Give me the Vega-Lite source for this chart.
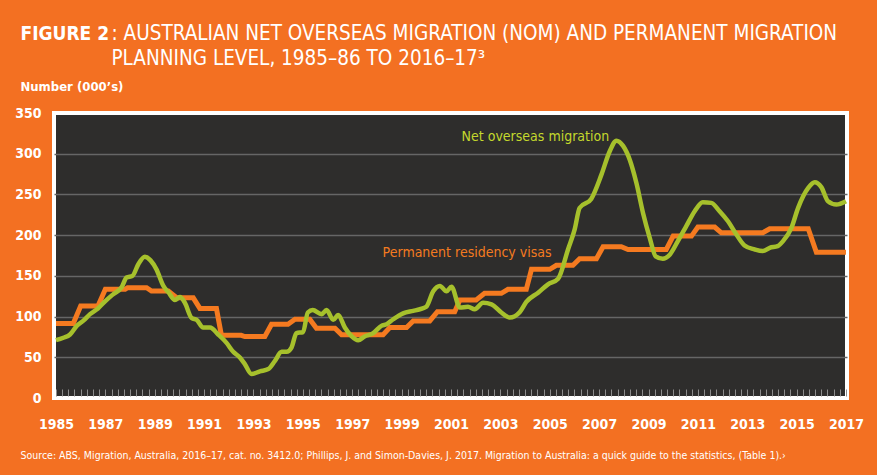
{
  "$schema": "https://vega.github.io/schema/vega-lite/v6.json",
  "autosize": "none",
  "width": 793,
  "height": 285,
  "padding": {"left": 54, "top": 113, "right": 30, "bottom": 77},
  "background": "#F37022",
  "config": {
    "font": "DejaVu Sans Condensed, sans-serif",
    "view": {"fill": "#2E2D2C", "stroke": "#FFFFFF", "strokeWidth": 4}
  },
  "datasets": {
    "nom": [
      {"year": 1985.0, "value": 71}, {"year": 1985.3, "value": 74}, {"year": 1985.57, "value": 78},
      {"year": 1985.84, "value": 88.6}, {"year": 1986.1, "value": 94.7}, {"year": 1986.38, "value": 103},
      {"year": 1986.7, "value": 110}, {"year": 1987.0, "value": 119}, {"year": 1987.3, "value": 127},
      {"year": 1987.66, "value": 136}, {"year": 1987.86, "value": 148}, {"year": 1988.1, "value": 150},
      {"year": 1988.33, "value": 164}, {"year": 1988.6, "value": 173.5}, {"year": 1988.83, "value": 169},
      {"year": 1989.07, "value": 158}, {"year": 1989.35, "value": 137.6}, {"year": 1989.55, "value": 130},
      {"year": 1989.82, "value": 120.4}, {"year": 1990.02, "value": 124}, {"year": 1990.22, "value": 117},
      {"year": 1990.5, "value": 98}, {"year": 1990.7, "value": 96}, {"year": 1990.96, "value": 86.5},
      {"year": 1991.24, "value": 86.5}, {"year": 1991.57, "value": 78}, {"year": 1991.9, "value": 68},
      {"year": 1992.18, "value": 56.7}, {"year": 1992.45, "value": 49.8}, {"year": 1992.65, "value": 41.6},
      {"year": 1992.92, "value": 29.4}, {"year": 1993.26, "value": 32.7}, {"year": 1993.6, "value": 35.5},
      {"year": 1993.87, "value": 45.7}, {"year": 1994.14, "value": 56.7}, {"year": 1994.34, "value": 56.7},
      {"year": 1994.54, "value": 62}, {"year": 1994.74, "value": 79.6}, {"year": 1995.01, "value": 81},
      {"year": 1995.2, "value": 105}, {"year": 1995.4, "value": 108}, {"year": 1995.76, "value": 103},
      {"year": 1995.96, "value": 108}, {"year": 1996.23, "value": 96}, {"year": 1996.43, "value": 102},
      {"year": 1996.7, "value": 86.5}, {"year": 1996.97, "value": 76}, {"year": 1997.24, "value": 71},
      {"year": 1997.5, "value": 75.5}, {"year": 1997.85, "value": 79.6}, {"year": 1998.18, "value": 88.6},
      {"year": 1998.39, "value": 90.6}, {"year": 1998.66, "value": 96.7}, {"year": 1999.06, "value": 104},
      {"year": 1999.47, "value": 107}, {"year": 1999.74, "value": 109}, {"year": 2000.0, "value": 112},
      {"year": 2000.28, "value": 131}, {"year": 2000.55, "value": 137.6}, {"year": 2000.82, "value": 131},
      {"year": 2001.02, "value": 136.7}, {"year": 2001.36, "value": 111}, {"year": 2001.69, "value": 112},
      {"year": 2001.96, "value": 109}, {"year": 2002.3, "value": 117}, {"year": 2002.64, "value": 115},
      {"year": 2003.04, "value": 105}, {"year": 2003.38, "value": 98.8}, {"year": 2003.79, "value": 105.7},
      {"year": 2004.05, "value": 118}, {"year": 2004.53, "value": 129.4}, {"year": 2004.93, "value": 139.6},
      {"year": 2005.34, "value": 146.5}, {"year": 2005.74, "value": 182.4}, {"year": 2006.01, "value": 207},
      {"year": 2006.21, "value": 233.5}, {"year": 2006.68, "value": 244.5}, {"year": 2007.09, "value": 274},
      {"year": 2007.43, "value": 303}, {"year": 2007.7, "value": 316}, {"year": 2007.97, "value": 309.6},
      {"year": 2008.24, "value": 292.6}, {"year": 2008.51, "value": 264}, {"year": 2008.78, "value": 227},
      {"year": 2009.05, "value": 196.7}, {"year": 2009.29, "value": 174}, {"year": 2009.58, "value": 171},
      {"year": 2009.86, "value": 176}, {"year": 2010.19, "value": 192.7}, {"year": 2010.53, "value": 211},
      {"year": 2010.87, "value": 229.4}, {"year": 2011.2, "value": 240.4}, {"year": 2011.54, "value": 239.6},
      {"year": 2011.88, "value": 229.4}, {"year": 2012.22, "value": 217}, {"year": 2012.56, "value": 200.8},
      {"year": 2012.89, "value": 187.3}, {"year": 2013.3, "value": 182.4}, {"year": 2013.63, "value": 180.4},
      {"year": 2013.91, "value": 184.5}, {"year": 2014.23, "value": 186.5}, {"year": 2014.45, "value": 192.7},
      {"year": 2014.79, "value": 209}, {"year": 2015.06, "value": 233.5}, {"year": 2015.47, "value": 258},
      {"year": 2015.73, "value": 265}, {"year": 2016.0, "value": 259}, {"year": 2016.27, "value": 241.6},
      {"year": 2016.61, "value": 237.5}, {"year": 2017.0, "value": 241.6}
    ],
    "prl": [
      {"year": 1985.0, "value": 91.4}, {"year": 1985.7, "value": 91.4}, {"year": 1986.0, "value": 113},
      {"year": 1986.7, "value": 113}, {"year": 1987.0, "value": 133.5}, {"year": 1987.8, "value": 133.5},
      {"year": 1987.9, "value": 135.5}, {"year": 1988.67, "value": 135.5}, {"year": 1988.87, "value": 131.4},
      {"year": 1989.55, "value": 131.4}, {"year": 1989.9, "value": 123}, {"year": 1990.56, "value": 123},
      {"year": 1990.83, "value": 110}, {"year": 1991.5, "value": 110}, {"year": 1991.7, "value": 77},
      {"year": 1992.5, "value": 77}, {"year": 1992.65, "value": 75.5}, {"year": 1993.46, "value": 75.5},
      {"year": 1993.73, "value": 90.6}, {"year": 1994.4, "value": 90.6}, {"year": 1994.68, "value": 96.7},
      {"year": 1995.28, "value": 96.7}, {"year": 1995.55, "value": 85.7}, {"year": 1996.3, "value": 85.7},
      {"year": 1996.57, "value": 77.6}, {"year": 1998.25, "value": 77.6}, {"year": 1998.52, "value": 86.5},
      {"year": 1999.2, "value": 86.5}, {"year": 1999.47, "value": 94.7}, {"year": 2000.14, "value": 94.7},
      {"year": 2000.45, "value": 106}, {"year": 2001.15, "value": 106}, {"year": 2001.36, "value": 120.4},
      {"year": 2002.02, "value": 120.4}, {"year": 2002.36, "value": 128.6}, {"year": 2003.04, "value": 128.6},
      {"year": 2003.31, "value": 133.5}, {"year": 2004.05, "value": 133.5}, {"year": 2004.26, "value": 158},
      {"year": 2005.0, "value": 158}, {"year": 2005.27, "value": 163}, {"year": 2005.94, "value": 163},
      {"year": 2006.21, "value": 171}, {"year": 2006.89, "value": 171}, {"year": 2007.16, "value": 185.7},
      {"year": 2007.9, "value": 185.7}, {"year": 2008.17, "value": 182.4}, {"year": 2009.72, "value": 182.4},
      {"year": 2010.0, "value": 198.8}, {"year": 2010.74, "value": 198.8}, {"year": 2011.0, "value": 210},
      {"year": 2011.68, "value": 210}, {"year": 2011.95, "value": 202.9}, {"year": 2013.63, "value": 202.9},
      {"year": 2013.91, "value": 207.8}, {"year": 2015.47, "value": 207.8}, {"year": 2015.8, "value": 179},
      {"year": 2017.0, "value": 179}
    ],
    "labels": [
      {"year": 2001.43, "value": 321, "series": "Net overseas migration"},
      {"year": 1998.23, "value": 177.5, "series": "Permanent residency visas"}
    ]
  },
  "resolve": {"axis": {"x": "independent", "y": "independent"}},
  "layer": [
    {
      "data": {"name": "prl"},
      "mark": {"type": "line", "color": "#F57A20", "strokeWidth": 5, "interpolate": "linear"},
      "encoding": {
        "x": {
          "field": "year", "type": "quantitative",
          "scale": {"domain": [1984.92, 2017.04], "nice": false, "zero": false},
          "axis": {
            "orient": "bottom", "offset": -2, "labels": false, "domain": false, "grid": false,
            "ticks": true, "tickSize": -7, "tickColor": "#8C8C8C", "tickWidth": 1, "title": null,
            "values": [1985,1985.25,1985.5,1985.75,1986,1986.25,1986.5,1986.75,1987,1987.25,1987.5,1987.75,1988,1988.25,1988.5,1988.75,1989,1989.25,1989.5,1989.75,1990,1990.25,1990.5,1990.75,1991,1991.25,1991.5,1991.75,1992,1992.25,1992.5,1992.75,1993,1993.25,1993.5,1993.75,1994,1994.25,1994.5,1994.75,1995,1995.25,1995.5,1995.75,1996,1996.25,1996.5,1996.75,1997,1997.25,1997.5,1997.75,1998,1998.25,1998.5,1998.75,1999,1999.25,1999.5,1999.75,2000,2000.25,2000.5,2000.75,2001,2001.25,2001.5,2001.75,2002,2002.25,2002.5,2002.75,2003,2003.25,2003.5,2003.75,2004,2004.25,2004.5,2004.75,2005,2005.25,2005.5,2005.75,2006,2006.25,2006.5,2006.75,2007,2007.25,2007.5,2007.75,2008,2008.25,2008.5,2008.75,2009,2009.25,2009.5,2009.75,2010,2010.25,2010.5,2010.75,2011,2011.25,2011.5,2011.75,2012,2012.25,2012.5,2012.75,2013,2013.25,2013.5,2013.75,2014,2014.25,2014.5,2014.75,2015,2015.25,2015.5,2015.75,2016,2016.25,2016.5,2016.75,2017]
          }
        },
        "y": {
          "field": "value", "type": "quantitative",
          "scale": {"domain": [0, 350], "nice": false},
          "axis": {
            "orient": "right", "labels": false, "ticks": false, "domain": false, "grid": false,
            "title": "FIGURE 2", "titleAngle": 0, "titleAlign": "left", "titleBaseline": "alphabetic",
            "titleX": -827, "titleY": -74, "titleColor": "#FFFFFF", "titleFontSize": 19, "titleFontWeight": "bold"
          }
        }
      }
    },
    {
      "data": {"name": "nom"},
      "mark": {"type": "line", "color": "#A6C02C", "strokeWidth": 4.5, "interpolate": "monotone"},
      "encoding": {
        "x": {
          "field": "year", "type": "quantitative",
          "scale": {"domain": [1984.92, 2017.04], "nice": false, "zero": false},
          "axis": {
            "orient": "bottom", "values": [1985,1987,1989,1991,1993,1995,1997,1999,2001,2003,2005,2007,2009,2011,2013,2015,2017],
            "format": "d", "ticks": false, "domain": false, "grid": false, "labelFlush": false, "labelOverlap": false,
            "labelPadding": 19, "labelColor": "#FFFFFF", "labelFontSize": 14, "labelFontWeight": "bold",
            "title": "Source: ABS, Migration, Australia, 2016–17, cat. no. 3412.0; Phillips, J. and Simon-Davies, J. 2017. Migration to Australia: a quick guide to the statistics, (Table 1).›",
            "titleX": -34, "titleY": 60, "titleAlign": "left", "titleAnchor": "start", "titleBaseline": "alphabetic",
            "titleColor": "#FFFFFF", "titleFontSize": 10.5, "titleFontWeight": "normal"
          }
        },
        "y": {
          "field": "value", "type": "quantitative",
          "scale": {"domain": [0, 350], "nice": false},
          "axis": {
            "orient": "left", "values": [0, 50, 100, 150, 200, 250, 300, 350],
            "ticks": false, "domain": false, "grid": true,
            "gridColor": {"condition": {"test": "datum.value == 0 || datum.value == 350", "value": "transparent"}, "value": "#666666"},
            "gridWidth": 1.5, "gridOpacity": 1,
            "labelPadding": 13, "labelColor": "#FFFFFF", "labelFontSize": 14, "labelFontWeight": "bold",
            "title": "Number (000’s)", "titleAngle": 0, "titleAlign": "left", "titleBaseline": "alphabetic",
            "titleX": -34, "titleY": -23, "titleColor": "#FFFFFF", "titleFontSize": 13, "titleFontWeight": "bold"
          }
        }
      }
    },
    {
      "data": {"name": "labels"},
      "mark": {"type": "text", "align": "left", "baseline": "middle", "fontSize": 14},
      "encoding": {
        "x": {
          "field": "year", "type": "quantitative",
          "scale": {"domain": [1984.92, 2017.04], "nice": false, "zero": false},
          "axis": {
            "orient": "top", "labels": false, "ticks": false, "domain": false, "grid": false,
            "title": [": AUSTRALIAN NET OVERSEAS MIGRATION (NOM) AND PERMANENT MIGRATION", "\u00a0\u00a0\u00a0PLANNING LEVEL, 1985–86 TO 2016–17³"],
            "titleX": 57, "titleY": -74, "titleAlign": "left", "titleAnchor": "start", "titleBaseline": "alphabetic",
            "titleColor": "#FFFFFF", "titleFontSize": 20.5, "titleFontWeight": "normal", "titleLineHeight": 25
          }
        },
        "y": {
          "field": "value", "type": "quantitative",
          "scale": {"domain": [0, 350], "nice": false},
          "axis": null
        },
        "text": {"field": "series"},
        "color": {
          "field": "series", "type": "nominal",
          "scale": {"domain": ["Net overseas migration", "Permanent residency visas"], "range": ["#C4D82D", "#F47B20"]},
          "legend": null
        }
      }
    }
  ]
}
